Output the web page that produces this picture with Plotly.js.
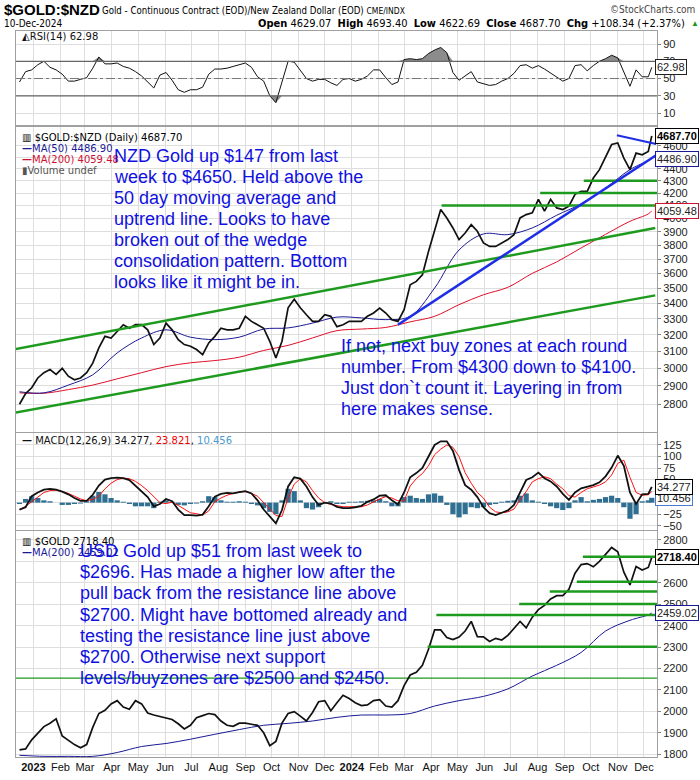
<!DOCTYPE html>
<html><head><meta charset="utf-8">
<script src="https://cdn.plot.ly/plotly-3.0.1.min.js"></script>
<style>html,body{margin:0;padding:0;background:#fff}#chart{width:700px;height:780px}</style>
</head><body><div id="chart"></div>
<script>
// ---------- DATA (weekly samples) ----------
const weeks = ['2022-12-16','2022-12-23','2022-12-30',
'2023-01-06','2023-01-13','2023-01-20','2023-01-27','2023-02-03','2023-02-10','2023-02-17','2023-02-24','2023-03-03','2023-03-10','2023-03-17','2023-03-24','2023-03-31','2023-04-07','2023-04-14','2023-04-21','2023-04-28','2023-05-05','2023-05-12','2023-05-19','2023-05-26','2023-06-02','2023-06-09','2023-06-16','2023-06-23','2023-06-30','2023-07-07','2023-07-14','2023-07-21','2023-07-28','2023-08-04','2023-08-11','2023-08-18','2023-08-25','2023-09-01','2023-09-08','2023-09-15','2023-09-22','2023-09-29','2023-10-06','2023-10-13','2023-10-20','2023-10-27','2023-11-03','2023-11-10','2023-11-17','2023-11-24','2023-12-01','2023-12-08','2023-12-15','2023-12-22','2023-12-29',
'2024-01-05','2024-01-12','2024-01-19','2024-01-26','2024-02-02','2024-02-09','2024-02-16','2024-02-23','2024-03-01','2024-03-08','2024-03-15','2024-03-22','2024-03-29','2024-04-05','2024-04-12','2024-04-19','2024-04-26','2024-05-03','2024-05-10','2024-05-17','2024-05-24','2024-05-31','2024-06-07','2024-06-14','2024-06-21','2024-06-28','2024-07-05','2024-07-12','2024-07-19','2024-07-26','2024-08-02','2024-08-09','2024-08-16','2024-08-23','2024-08-30','2024-09-06','2024-09-13','2024-09-20','2024-09-27','2024-10-04','2024-10-11','2024-10-18','2024-10-25','2024-11-01','2024-11-08','2024-11-15','2024-11-22','2024-11-29','2024-12-06','2024-12-10'];

const nzdClose = [2800,2858,2890,2945,2975,2993,2965,3000,2955,2935,
2945,2975,3030,3120,3190,3180,3220,3262,3240,3262,
3262,3230,3140,3180,3272,3230,3170,3140,3130,3110,
3080,3150,3190,3240,3230,3230,3240,3315,3283,3262,
3240,3160,3060,3160,3370,3425,3370,3325,3283,3283,
3325,3315,3250,3262,3283,3283,3283,3315,3336,3368,
3336,3294,3283,3357,3522,3545,3590,3755,3903,4069,
4004,3928,3841,3890,3953,3903,3817,3791,3791,3817,
3841,3878,4004,4030,4043,4150,4056,4150,4082,4069,
4096,4190,4214,4214,4323,4393,4506,4610,4624,4492,
4393,4535,4520,4550,4687.70];

const usdClose = [1820,1825,1867,1898,1929,1945,1965,1885,1865,1845,
1830,1845,1925,1990,2005,2035,2050,2020,2010,2050,
2035,1992,1983,1976,1968,1962,1942,1918,1935,1970,
1980,1990,1985,1955,1935,1930,1945,1945,1940,1935,
1900,1840,1860,1945,1990,1999,1978,1955,1995,2045,
2050,2003,2040,2075,2060,2040,2027,2030,2050,2055,
2025,2020,2050,2120,2170,2182,2215,2290,2380,2380,
2345,2335,2347,2375,2420,2349,2348,2326,2341,2333,
2355,2390,2420,2390,2440,2475,2495,2525,2540,2540,
2570,2645,2685,2690,2675,2700,2735,2765,2745,2650,
2590,2676,2660,2672,2718.40];

const rsi14 = [46,58,60,66,70,63,60,55,47,47,
49,51,62,75,67,67,68,64,62,58,
53,46,39,54,57,48,37,34,37,37,
40,55,61,61,62,64,66,68,63,52,
47,30,22,45,70,69,60,50,47,49,
49,45,42,49,50,47,49,53,60,60,
51,43,46,72,73,72,73,79,83,86,
80,57,48,53,58,46,44,42,43,47,
50,56,65,66,62,65,61,56,51,47,
50,65,66,59,65,70,73,77,74,57,
41,60,52,52,62.98];

const macdLine = [-15,-10,14,22,28,30,28,24,18,10,
4,4,17,37,50,53,54,53,49,37,
25,12,-8,-3,8,3,-15,-27,-27,-28,
-26,-8,13,19,21,20,23,25,20,5,
-15,-30,-45,-16,35,55,52,35,12,-5,
0,-2,-9,-12,-12,-10,-7,2,7,15,
16,5,-4,22,55,64,75,100,125,133,
133,112,71,38,28,12,-10,-23,-27,-22,
-17,-5,22,49,55,65,53,46,35,19,
6,22,31,35,38,44,57,76,102,80,
22,-3,18,19,34.277];

const macdSignal = [-15,-8,2,12,22,26,27,24,20,14,
8,4,7,14,30,42,50,53,52,46,
37,26,12,0,-2,1,-6,-14,-22,-24,
-27,-18,2,10,16,20,23,24,20,14,
0,-12,-28,-30,10,40,52,45,26,10,
0,-4,-7,-9,-9,-9,-9,-5,2,8,
13,10,4,4,36,52,63,80,104,116,
125,120,100,65,42,22,10,-10,-20,-22,
-20,-14,6,24,45,52,56,52,40,30,
15,12,22,30,34,38,45,60,85,92,
55,22,16,17,23.821];

const macdHist = [-3,8,14,10,5,3,0,-5,-5,-3,
-2,3,15,23,18,10,5,2,-3,-8,
-8,-8,-12,2,5,2,-5,-6,-3,-2,
3,14,12,5,2,2,3,2,-3,-6,
-12,-20,-25,5,30,25,5,-12,-15,-10,
0,3,-3,-3,2,2,3,4,5,8,
3,-8,-8,12,15,10,8,18,20,15,
-5,-25,-32,-25,-10,-12,-10,-5,-3,2,
4,5,15,20,5,2,-3,-8,-12,-16,
-12,5,12,3,6,8,12,15,10,-10,
-35,-25,3,5,10.456];

const maDates = ['2022-12-16','2023-01-13','2023-02-10','2023-03-10','2023-04-07','2023-05-05','2023-06-02','2023-06-30','2023-07-28','2023-08-25','2023-09-22','2023-10-20','2023-11-17','2023-12-15','2024-01-12','2024-02-09','2024-03-08','2024-04-05','2024-05-03','2024-05-31','2024-06-28','2024-07-26','2024-08-23','2024-09-20','2024-10-18','2024-11-15','2024-12-06','2024-12-10'];
const nzdMA50  = [2868,2862,2905,2963,3090,3180,3230,3185,3170,3185,3235,3242,3272,3310,3305,3294,3315,3500,3765,3883,3878,3928,4025,4114,4241,4393,4470,4486.90];
const nzdMA200 = [2862,2860,2880,2905,2940,2975,3010,3032,3045,3065,3105,3135,3180,3225,3235,3245,3280,3315,3390,3455,3505,3600,3680,3780,3880,3978,4035,4059.48];
const usdMA200 = [1795,1790,1790,1790,1808,1836,1850,1870,1893,1915,1935,1944,1955,1972,1983,1983,1990,2025,2050,2070,2105,2165,2215,2275,2375,2425,2450,2459.02];

// drawn trend / support lines (dates, values)
const chanUpperD = ['2022-11-24','2024-12-14'], chanUpperV = [3096,3927];
const chanLowerD = ['2022-11-24','2024-12-14'], chanLowerV = [2741,3451];
const upTrendD = ['2024-02-23','2024-12-15'], upTrendV = [3262,4516];
const wedgeTopD = ['2024-10-31','2024-12-15'], wedgeTopV = [4693,4615];
const nzdSupportLevels = [4300,4200,4100];
const nzdSupportStart  = ['2024-09-23','2024-08-04','2024-04-13'];
const usdSupportLevels = [2722,2605,2559,2501,2450,2302];
const usdSupportStart  = ['2024-09-22','2024-09-15','2024-08-15','2024-07-11','2024-04-07','2024-03-28'];
const usdThinLevel = 2155;
const lineEnd = '2024-12-16', lineStart = '2022-12-12';

const monthTicks = ['2023-01-01','2023-02-01','2023-03-01','2023-04-01','2023-05-01','2023-06-01','2023-07-01','2023-08-01','2023-09-01','2023-10-01','2023-11-01','2023-12-01','2024-01-01','2024-02-01','2024-03-01','2024-04-01','2024-05-01','2024-06-01','2024-07-01','2024-08-01','2024-09-01','2024-10-01','2024-11-01','2024-12-01'];
const monthLabels = ['<b>2023</b>','Feb','Mar','Apr','May','Jun','Jul','Aug','Sep','Oct','Nov','Dec','<b>2024</b>','Feb','Mar','Apr','May','Jun','Jul','Aug','Sep','Oct','Nov','Dec'];
const rsiTicks = [10,30,50,70,90];
const nzdTicks = [2800,2900,3000,3100,3200,3300,3400,3500,3600,3700,3800,3900,4000,4100,4200,4300,4400,4500,4600];
const macdTicks = [-50,-25,0,25,50,75,100,125];
const usdTicks = [1800,1900,2000,2100,2200,2300,2400,2500,2600,2700,2800];

const nzdNote = ['NZD Gold up $147 from last','week to $4650. Held above the','50 day moving average and','uptrend line. Looks to have','broken out of the wedge','consolidation pattern. Bottom','looks like it might be in.'];
const nzdNote2 = ['If not, next buy zones at each round','number. From $4300 down to $4100.','Just don`t count it. Layering in from','here makes sense.'];
const usdNote = ['USD Gold up $51 from last week to','$2696. Has made a higher low after the','pull back from the resistance line above','$2700. Might have bottomed already and','testing the resistance line just above','$2700. Otherwise next support','levels/buyzones are $2500 and $2450.'];

// ---------- STYLE ----------
const FONT = 'Liberation Sans, Arial, sans-serif';
const NARROW = 'Liberation Sans Narrow, DejaVu Sans Condensed, Liberation Sans, sans-serif';
const LEG = 'DejaVu Sans, Verdana, sans-serif';
const GRID = '#dedede', FRAME = '#a0a0a0';
const GREEN = '#1e9a1e', BLUE = '#1e2ee6', NAVY = '#1a1a96', RED = '#e0102a', NOTE = '#1010e0';
const W = 700, H = 780, ML = 16, MR = 43, MT = 31, MB = 23;
const PW = W - ML - MR, PH = H - MT - MB;
const px = x => (x - ML) / PW;
const py = y => (H - MB - y) / PH;

const traces = [];
// RSI
const rsiHi = rsi14.map(v => Math.max(v, 70));
const rsiLo = rsi14.map(v => Math.min(v, 30));
traces.push({x: weeks, y: weeks.map(() => 70), yaxis: 'y', mode: 'lines', line: {width: 0}});
traces.push({x: weeks, y: rsiHi, yaxis: 'y', mode: 'lines', line: {width: 0}, fill: 'tonexty', fillcolor: '#8c8c8c'});
traces.push({x: weeks, y: weeks.map(() => 30), yaxis: 'y', mode: 'lines', line: {width: 0}});
traces.push({x: weeks, y: rsiLo, yaxis: 'y', mode: 'lines', line: {width: 0}, fill: 'tonexty', fillcolor: '#8c8c8c'});
traces.push({x: weeks, y: rsi14, yaxis: 'y', mode: 'lines', line: {color: '#111', width: 1}});

// Main NZD panel
traces.push({x: maDates, y: nzdMA200, yaxis: 'y2', mode: 'lines', line: {color: RED, width: 1, shape: 'spline'}});
traces.push({x: maDates, y: nzdMA50, yaxis: 'y2', mode: 'lines', line: {color: NAVY, width: 1, shape: 'spline'}});
traces.push({x: weeks, y: nzdClose, yaxis: 'y2', mode: 'lines', line: {color: '#111', width: 1.7}});
traces.push({x: chanUpperD, y: chanUpperV, yaxis: 'y2', mode: 'lines', line: {color: GREEN, width: 2.5}});
traces.push({x: chanLowerD, y: chanLowerV, yaxis: 'y2', mode: 'lines', line: {color: GREEN, width: 2.5}});
nzdSupportLevels.forEach((lv, i) => traces.push({x: [nzdSupportStart[i], lineEnd], y: [lv, lv], yaxis: 'y2', mode: 'lines', line: {color: GREEN, width: 2.5}}));
traces.push({x: upTrendD, y: upTrendV, yaxis: 'y2', mode: 'lines', line: {color: BLUE, width: 2.6}});
traces.push({x: wedgeTopD, y: wedgeTopV, yaxis: 'y2', mode: 'lines', line: {color: BLUE, width: 2}});

// MACD
traces.push({type: 'bar', x: weeks, y: macdHist, yaxis: 'y3', marker: {color: '#2f6f92', line: {width: 0}}, width: 6 * 86400000});
traces.push({x: weeks, y: macdSignal, yaxis: 'y3', mode: 'lines', line: {color: '#ff1010', width: 1}});
traces.push({x: weeks, y: macdLine, yaxis: 'y3', mode: 'lines', line: {color: '#111', width: 1.8}});

// USD panel
traces.push({x: maDates, y: usdMA200, yaxis: 'y4', mode: 'lines', line: {color: NAVY, width: 1, shape: 'spline'}});
traces.push({x: [lineStart, lineEnd], y: [usdThinLevel, usdThinLevel], yaxis: 'y4', mode: 'lines', line: {color: GREEN, width: 1.2}});
traces.push({x: weeks, y: usdClose, yaxis: 'y4', mode: 'lines', line: {color: '#111', width: 1.7}});
usdSupportLevels.forEach((lv, i) => traces.push({x: [usdSupportStart[i], lineEnd], y: [lv, lv], yaxis: 'y4', mode: 'lines', line: {color: GREEN, width: 2.5}}));

traces.forEach(t => { if (!t.type) t.type = 'scatter'; t.xaxis = 'x'; t.showlegend = false; t.hoverinfo = 'skip'; });

const yBase = {side: 'right', showgrid: true, gridcolor: GRID, gridwidth: 1, showline: true, mirror: true, linecolor: FRAME, linewidth: 1,
  ticks: 'outside', ticklen: 3, tickcolor: '#888', zeroline: false, fixedrange: true, tickfont: {family: FONT, size: 11, color: '#222'}};

const ann = [];
function txt(x, y, text, size, color, opt) {
  opt = opt || {};
  ann.push(Object.assign({xref: 'paper', yref: 'paper', x: px(x), y: py(y), text: text, showarrow: false,
    xanchor: 'left', yanchor: 'middle', font: {family: opt.family || FONT, size: size, color: color}}, opt.extra || {}));
}
function box(yref, yval, text, color, bold) {
  ann.push({xref: 'paper', yref: yref, x: 1, y: yval, xanchor: 'left', yanchor: 'middle', xshift: -2, text: bold ? '<b>' + text + '</b>' : text,
    showarrow: false, bgcolor: '#fff', bordercolor: color, borderwidth: 1, borderpad: 1,
    font: {family: FONT, size: 11, color: bold ? '#000' : '#222'}});
}

// header
txt(2, 10, '<b>$GOLD:$NZD</b>', 15, '#000');
txt(100, 11, 'Gold - Continuous Contract (EOD)/New Zealand Dollar (EOD) <span style="font-size:8.5px">CME/INDX</span>', 9.6, '#000', {family: NARROW});
txt(697, 10, '©StockCharts.com', 10, '#444', {family: NARROW, extra: {xanchor: 'right'}});
txt(2, 23, '10-Dec-2024', 10, '#000', {family: NARROW});
txt(687, 23, '<b>Open</b> 4629.07  <b>High</b> 4693.40  <b>Low</b> 4622.69  <b>Close</b> 4687.70  <b>Chg</b> +108.34 (+2.37%)', 11, '#000', {family: NARROW, extra: {xanchor: 'right'}});
txt(689, 23, '▲', 8, '#1a9a1a');

// panel legends
txt(20, 36, '◭RSI(14) 62.98', 10, '#111', {family: LEG});
txt(20, 137, '▥ $GOLD:$NZD (Daily) 4687.70', 10, '#000', {family: LEG});
txt(20, 148, '<b>—</b>MA(50) 4486.90', 10, NAVY, {family: LEG});
txt(20, 159, '<b>—</b>MA(200) 4059.48', 10, '#d01030', {family: LEG});
txt(20, 170, '▮Volume undef', 10, '#555', {family: LEG});
txt(20, 440, '<b>—</b> MACD(12,26,9) 34.277, <span style="color:#e00">23.821</span>, <span style="color:#4a9ad0">10.456</span>', 10, '#111', {family: LEG});
txt(20, 541, '▥ $GOLD 2718.40', 10, '#000', {family: LEG});
txt(20, 552, '<b>—</b>MA(200) 2459.02', 10, NAVY, {family: LEG});

// notes
nzdNote.forEach((s, i) => txt(112, 156 + i * 21, s, 18, NOTE));
nzdNote2.forEach((s, i) => txt(339, 346 + i * 21, s, 18, NOTE));
usdNote.forEach((s, i) => txt(78, 551 + i * 21.2, s, 18, NOTE));

// value boxes
box('y', 62.98, '62.98', '#222', false);
box('y2', Math.log10(4059.48), '4059.48', '#d01030', false);
box('y2', Math.log10(4486.90), '4486.90', NAVY, false);
box('y2', Math.log10(4687.70), '4687.70', '#000', true);
box('y3', 23.821, '23.821', '#e00', false);
box('y3', 10.456, '10.456', '#4a7ad0', false);
box('y3', 34.277, '34.277', '#000', false);
box('y4', 2459.02, '2459.02', NAVY, false);
box('y4', 2718.40, '2718.40', '#000', true);

const shapes = [
  {type: 'line', xref: 'paper', yref: 'y', x0: 0, x1: 1, y0: 70, y1: 70, line: {color: '#666', width: 1.2}},
  {type: 'line', xref: 'paper', yref: 'y', x0: 0, x1: 1, y0: 30, y1: 30, line: {color: '#666', width: 1.2}},
  {type: 'line', xref: 'paper', yref: 'y', x0: 0, x1: 1, y0: 50, y1: 50, line: {color: '#777', width: 1, dash: 'dashdot'}}
];

const layout = {
  width: W, height: H, margin: {l: ML, r: MR, t: MT, b: MB, pad: 0},
  paper_bgcolor: '#fff', plot_bgcolor: '#fff', showlegend: false, hovermode: false,
  xaxis: {type: 'date', range: [lineStart, lineEnd], anchor: 'y4', tickvals: monthTicks, ticktext: monthLabels,
    showgrid: true, gridcolor: GRID, showline: true, mirror: 'all', linecolor: FRAME, ticks: '', fixedrange: true,
    tickfont: {family: FONT, size: 11, color: '#111'}},
  yaxis: Object.assign({}, yBase, {domain: [0.8705, 1], range: [-3.9, 105.1], tickvals: rsiTicks}),
  yaxis2: Object.assign({}, yBase, {domain: [0.4477, 0.8678], type: 'log', range: [3.42406, 3.67835], tickvals: nzdTicks, ticktext: nzdTicks.map(String)}),
  yaxis3: Object.assign({}, yBase, {domain: [0.3127, 0.4463], range: [-59.3, 151], tickvals: macdTicks}),
  yaxis4: Object.assign({}, yBase, {domain: [0, 0.3113], range: [1787, 2842], tickvals: usdTicks}),
  annotations: ann, shapes: shapes
};
Plotly.newPlot('chart', traces, layout, {displayModeBar: false, staticPlot: true});
</script></body></html>
